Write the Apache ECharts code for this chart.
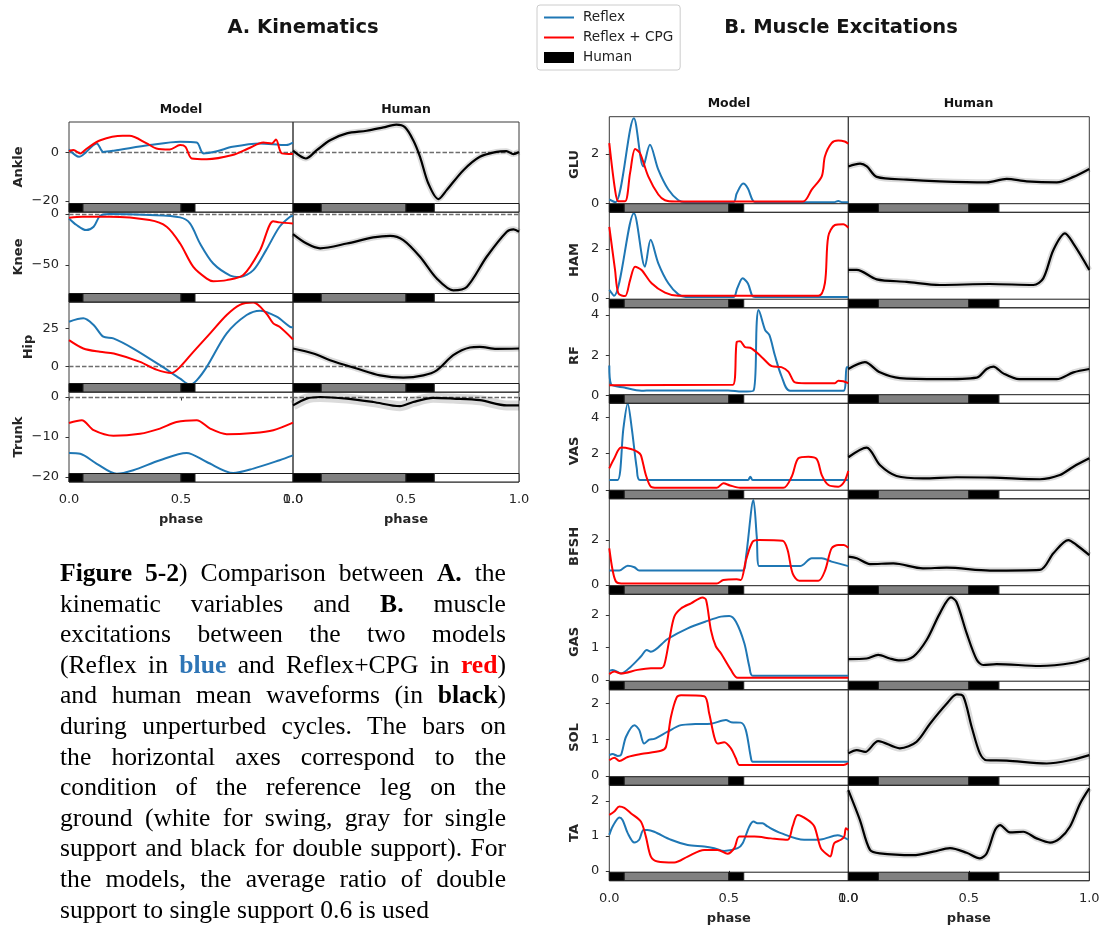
<!DOCTYPE html>
<html><head><meta charset="utf-8">
<script src="https://cdn.jsdelivr.net/npm/echarts@6/dist/echarts.min.js"></script>
<style>
html,body{margin:0;padding:0;background:#fff;}
#chart{position:absolute;left:0;top:0;width:1106px;height:926px;}
#caption{position:absolute;left:60px;top:558px;width:446px;font-family:'Liberation Serif','Times New Roman',serif;font-size:25.6px;line-height:30.6px;color:#000;}
#caption .j{text-align:justify;text-align-last:justify;}
#caption .l{text-align:left;}
</style></head><body>
<div id="chart"></div>
<div id="caption">
<div class="j"><b>Figure 5-2</b>) Comparison between <b>A.</b> the</div>
<div class="j">kinematic variables and <b>B.</b> muscle</div>
<div class="j">excitations between the two models</div>
<div class="j">(Reflex in <b style="color:#2e75b6">blue</b> and Reflex+CPG in <b style="color:#ff0000">red</b>)</div>
<div class="j">and human mean waveforms (in <b>black</b>)</div>
<div class="j">during unperturbed cycles. The bars on</div>
<div class="j">the horizontal axes correspond to the</div>
<div class="j">condition of the reference leg on the</div>
<div class="j">ground (white for swing, gray for single</div>
<div class="j">support and black for double support). For</div>
<div class="j">the models, the average ratio of double</div>
<div class="l">support to single support 0.6 is used</div>
</div>
<script>
// ---------- DATA: [phase, value] ----------
const ankleReflex = [[0,1.2],[0.045,-1.8],[0.124,3.7],[0.153,0.2],[0.20,0.7],[0.36,3.0],[0.496,4.4],[0.57,4.1],[0.60,-0.4],[0.66,0.5],[0.73,2.3],[0.85,3.7],[0.97,3.0],[1.0,4.0]];
const ankleCPG = [[0,0.5],[0.02,1.0],[0.05,-0.4],[0.08,1.6],[0.14,5.0],[0.24,6.8],[0.27,6.8],[0.347,3.7],[0.39,1.6],[0.45,1.2],[0.496,3.0],[0.52,2.3],[0.548,-2.5],[0.615,-2.8],[0.73,-1.1],[0.80,1.6],[0.868,4.1],[0.905,3.7],[0.924,5.3],[0.95,-0.4],[1.0,-0.7]];
const ankleHuman = [[0,0.7],[0.057,-2.5],[0.105,0.9],[0.164,5.0],[0.238,7.8],[0.326,8.9],[0.40,10.3],[0.457,11.4],[0.496,10.3],[0.532,5.0],[0.562,-1.8],[0.599,-12.8],[0.643,-19.2],[0.68,-15.5],[0.754,-7.3],[0.827,-1.8],[0.90,0.2],[0.944,0.5],[0.975,-0.7],[1.0,0.2]];

const kneeReflex = [[0,-4.3],[0.034,-10.8],[0.076,-15.8],[0.11,-12.5],[0.138,-2],[0.18,0],[0.36,-1],[0.496,-3.3],[0.54,-9.2],[0.585,-29],[0.644,-48.7],[0.72,-60.5],[0.763,-61.8],[0.823,-55.2],[0.88,-35.5],[0.94,-12.5],[0.987,-2.6],[1.0,-2]];
const kneeCPG = [[0,-3.6],[0.06,-2.6],[0.18,-2.6],[0.36,-5.9],[0.436,-12.5],[0.496,-29],[0.555,-52],[0.615,-63.5],[0.644,-66],[0.704,-65],[0.778,-60],[0.853,-35.5],[0.912,-7],[0.94,-8.2],[1.0,-9.2]];
const kneeHuman = [[0,-19.7],[0.06,-29],[0.12,-33.7],[0.238,-29],[0.355,-23],[0.43,-21.4],[0.488,-25.6],[0.562,-42],[0.636,-63.4],[0.709,-75],[0.769,-71.7],[0.857,-42],[0.946,-17.4],[0.976,-15],[1.0,-17.4]];

const hipReflex = [[0,29.4],[0.064,31.6],[0.11,27.2],[0.153,19.5],[0.198,18.4],[0.287,11.7],[0.406,0.7],[0.496,-8.2],[0.54,-12.2],[0.57,-9.3],[0.615,-0.4],[0.704,21.7],[0.793,33.8],[0.853,36.7],[0.927,32.7],[0.987,26],[1.0,25.7]];
const hipCPG = [[0,17.2],[0.064,11.7],[0.138,9.5],[0.2,8.4],[0.317,2.9],[0.39,-2.2],[0.458,-4.4],[0.496,-0.4],[0.555,9.5],[0.63,21.7],[0.704,33.8],[0.763,40.5],[0.823,42],[0.88,35],[0.912,28.3],[0.94,26],[1.0,17.7]];
const hipHuman = [[0,11.7],[0.09,8.4],[0.164,4],[0.282,-1.5],[0.385,-6],[0.488,-7.5],[0.577,-6],[0.636,-2.7],[0.709,7.3],[0.783,12.4],[0.827,12.8],[0.9,11.5],[1.0,11.7]];

const trunkReflex = [[0,-14],[0.05,-14.2],[0.124,-16.7],[0.213,-19.2],[0.287,-18.3],[0.406,-15.8],[0.525,-14],[0.615,-16.25],[0.733,-19],[0.823,-17.9],[0.94,-15.8],[1.0,-14.6]];
const trunkCPG = [[0,-6.5],[0.057,-5.8],[0.11,-8.3],[0.198,-9.7],[0.317,-9.2],[0.406,-7.9],[0.48,-6.25],[0.57,-5.8],[0.63,-7.9],[0.704,-9.3],[0.823,-9],[0.912,-8.3],[1.0,-6.4]];
const trunkHuman = [[0,-2.1],[0.06,-0.4],[0.12,0],[0.238,-0.4],[0.355,-1.25],[0.473,-2.3],[0.532,-1.25],[0.62,-0.2],[0.709,-0.4],[0.827,-0.8],[0.946,-2.1],[1.0,-2.1]];

const gluReflex = [[0,0.16],[0.026,0.05],[0.103,3.43],[0.142,1.49],[0.17,2.36],[0.205,1.36],[0.247,0.56],[0.289,0.13],[0.32,0.05],[0.519,0.05],[0.533,0.4],[0.56,0.8],[0.58,0.6],[0.598,0.16],[0.61,0.05],[0.94,0.05],[0.958,0.1],[0.975,0.05],[1.0,0.05]];
const gluCPG = [[0,2.43],[0.024,0.56],[0.038,0.09],[0.066,0.09],[0.087,1.23],[0.108,2.19],[0.128,2.03],[0.163,1.09],[0.205,0.36],[0.233,0.13],[0.275,0.08],[0.81,0.08],[0.847,0.56],[0.889,1.09],[0.902,1.89],[0.93,2.43],[0.958,2.53],[0.985,2.49],[1.0,2.4]];
const gluHuman = [[0,1.49],[0.049,1.6],[0.077,1.49],[0.118,1.07],[0.242,0.96],[0.38,0.89],[0.574,0.85],[0.657,0.99],[0.74,0.89],[0.865,0.85],[0.934,1.07],[1.0,1.39]];

const hamReflex = [[0,0.34],[0.02,0.1],[0.103,3.45],[0.149,1.28],[0.173,2.37],[0.205,1.42],[0.247,0.61],[0.289,0.16],[0.32,0.05],[0.519,0.05],[0.535,0.4],[0.558,0.81],[0.58,0.6],[0.598,0.1],[0.61,0.05],[1.0,0.05]];
const hamCPG = [[0,2.9],[0.024,1.15],[0.038,0.2],[0.066,0.09],[0.087,0.74],[0.108,1.28],[0.135,1.15],[0.177,0.61],[0.233,0.23],[0.289,0.1],[0.875,0.1],[0.902,0.61],[0.916,2.5],[0.944,2.97],[0.979,3.0],[1.0,2.86]];
const hamHuman = [[0,1.15],[0.035,1.15],[0.118,0.77],[0.242,0.67],[0.38,0.54],[0.587,0.58],[0.768,0.54],[0.809,0.81],[0.851,1.96],[0.899,2.63],[0.934,2.22],[1.0,1.15]];

const rfReflex = [[0,1.48],[0.007,0.55],[0.063,0.38],[0.135,0.22],[0.177,0.24],[0.498,0.24],[0.554,0.18],[0.603,0.22],[0.617,3.67],[0.624,4.25],[0.652,3.25],[0.67,3.0],[0.693,1.98],[0.72,0.97],[0.756,0.22],[0.98,0.22],[0.993,1.39],[1.0,1.39]];
const rfCPG = [[0,0.5],[0.517,0.52],[0.533,2.66],[0.547,2.7],[0.568,2.4],[0.59,2.37],[0.638,1.9],[0.68,1.45],[0.72,1.4],[0.749,1.18],[0.777,0.64],[0.819,0.6],[0.944,0.6],[0.958,0.72],[0.979,0.7],[1.0,0.6]];
const rfHuman = [[0,1.31],[0.069,1.65],[0.131,1.14],[0.214,0.85],[0.38,0.8],[0.533,0.88],[0.574,1.31],[0.602,1.43],[0.643,1.09],[0.709,0.8],[0.865,0.8],[0.934,1.14],[1.0,1.31]];

const vasReflex = [[0,0.55],[0.035,0.55],[0.059,3.39],[0.077,4.76],[0.094,3.39],[0.115,1.19],[0.128,0.55],[0.58,0.55],[0.59,0.73],[0.60,0.55],[1.0,0.55]];
const vasCPG = [[0,1.19],[0.021,1.74],[0.049,2.33],[0.09,2.25],[0.118,2.1],[0.132,1.92],[0.153,0.82],[0.174,0.18],[0.2,0.12],[0.45,0.12],[0.477,0.37],[0.505,0.25],[0.547,0.12],[0.728,0.12],[0.763,0.73],[0.791,1.74],[0.833,1.83],[0.868,1.7],[0.889,0.82],[0.917,0.27],[0.958,0.18],[0.983,0.45],[1.0,1.04]];
const vasHuman = [[0,1.8],[0.076,2.33],[0.131,1.37],[0.2,0.77],[0.31,0.64],[0.449,0.7],[0.6,0.68],[0.795,0.59],[0.878,0.82],[0.934,1.28],[1.0,1.74]];

const bfshReflex = [[0,0.64],[0.042,0.64],[0.077,0.86],[0.105,0.79],[0.125,0.64],[0.558,0.64],[0.572,1.26],[0.603,3.78],[0.617,2.15],[0.627,0.84],[0.798,0.84],[0.847,1.19],[0.889,1.19],[0.93,1.04],[1.0,0.84]];
const bfshCPG = [[0,1.63],[0.014,0.65],[0.028,0.15],[0.05,0.07],[0.45,0.07],[0.477,0.22],[0.533,0.25],[0.55,0.22],[0.572,1.11],[0.6,1.93],[0.628,2.0],[0.725,1.97],[0.746,1.56],[0.767,0.52],[0.795,0.19],[0.875,0.19],[0.903,0.65],[0.93,1.63],[0.958,1.78],[0.98,1.78],[1.0,1.66]];
const bfshHuman = [[0,1.26],[0.035,1.19],[0.09,0.93],[0.187,0.96],[0.31,0.74],[0.408,0.77],[0.587,0.64],[0.795,0.67],[0.851,1.41],[0.913,2.0],[0.947,1.78],[1.0,1.33]];

const gasReflex = [[0,0.28],[0.014,0.31],[0.049,0.2],[0.09,0.41],[0.132,0.72],[0.157,0.92],[0.174,0.87],[0.244,1.26],[0.328,1.59],[0.411,1.82],[0.467,1.95],[0.502,1.97],[0.53,1.79],[0.565,1.13],[0.586,0.41],[0.6,0.13],[1.0,0.13]];
const gasCPG = [[0,0.18],[0.021,0.26],[0.049,0.2],[0.118,0.31],[0.174,0.36],[0.216,0.36],[0.23,0.46],[0.251,1.23],[0.272,1.95],[0.3,2.2],[0.342,2.36],[0.39,2.54],[0.405,2.46],[0.425,1.54],[0.446,1.03],[0.467,0.82],[0.509,0.31],[0.537,0.07],[1.0,0.07]];
const gasHuman = [[0,0.64],[0.076,0.66],[0.124,0.77],[0.173,0.66],[0.214,0.6],[0.27,0.72],[0.325,1.23],[0.38,2.05],[0.426,2.54],[0.449,2.4],[0.491,1.44],[0.533,0.62],[0.56,0.46],[0.615,0.49],[0.795,0.43],[0.934,0.53],[1.0,0.67]];

const solReflex = [[0,0.57],[0.014,0.6],[0.035,0.55],[0.049,0.58],[0.07,1.08],[0.105,1.4],[0.125,1.27],[0.146,0.89],[0.167,1.0],[0.188,1.02],[0.244,1.22],[0.3,1.4],[0.36,1.43],[0.425,1.44],[0.488,1.54],[0.51,1.48],[0.55,1.47],[0.571,1.27],[0.592,0.52],[0.6,0.39],[1.0,0.39]];
const solCPG = [[0,0.43],[0.021,0.5],[0.042,0.41],[0.077,0.52],[0.132,0.6],[0.216,0.69],[0.237,0.8],[0.258,1.63],[0.282,2.17],[0.3,2.23],[0.397,2.2],[0.418,1.72],[0.439,1.08],[0.453,0.89],[0.481,0.93],[0.509,0.76],[0.53,0.48],[0.544,0.3],[0.98,0.3],[1.0,0.35]];
const solHuman = [[0,0.62],[0.035,0.71],[0.07,0.66],[0.124,0.96],[0.214,0.76],[0.283,0.94],[0.339,1.44],[0.408,1.99],[0.45,2.25],[0.477,2.2],[0.512,1.35],[0.546,0.62],[0.574,0.43],[0.657,0.42],[0.823,0.34],[0.934,0.45],[1.0,0.57]];

const taReflex = [[0,1.03],[0.014,1.27],[0.042,1.53],[0.056,1.45],[0.077,1.08],[0.105,0.81],[0.125,0.89],[0.143,1.17],[0.16,1.17],[0.188,1.12],[0.258,0.89],[0.328,0.74],[0.397,0.7],[0.439,0.65],[0.481,0.57],[0.537,0.65],[0.558,0.79],[0.586,1.27],[0.604,1.41],[0.62,1.36],[0.641,1.36],[0.662,1.27],[0.718,1.08],[0.815,0.89],[0.885,0.9],[0.955,1.02],[1.0,0.89]];
const taCPG = [[0,1.6],[0.021,1.7],[0.042,1.84],[0.063,1.8],[0.09,1.65],[0.132,1.41],[0.153,0.98],[0.174,0.41],[0.202,0.27],[0.272,0.24],[0.328,0.41],[0.397,0.6],[0.453,0.6],[0.495,0.49],[0.523,0.65],[0.544,0.98],[0.607,0.98],[0.676,0.93],[0.746,0.89],[0.767,1.27],[0.788,1.6],[0.83,1.46],[0.858,1.27],[0.885,0.65],[0.913,0.46],[0.925,0.41],[0.941,0.79],[0.969,0.89],[0.983,0.98],[0.99,1.22],[1.0,1.17]];
const taHuman = [[0,2.31],[0.048,1.46],[0.09,0.6],[0.131,0.5],[0.27,0.45],[0.353,0.55],[0.422,0.65],[0.491,0.52],[0.546,0.36],[0.574,0.5],[0.609,1.17],[0.63,1.31],[0.671,1.1],[0.726,1.12],[0.781,0.93],[0.837,0.81],[0.878,0.93],[0.92,1.27],[0.962,1.93],[1.0,2.36]];

// gait phase bars: boundaries and ground-contact state of each segment
const modelPhaseEdges = [0, 0.0625, 0.5, 0.5625, 1];
const humanPhaseEdges = [0, 0.125, 0.5, 0.625, 1];
const phaseStates = ['double', 'single', 'double', 'swing'];

const kinRows = ['Ankle', 'Knee', 'Hip', 'Trunk'];
const kinTicks = [[-20, 0], [-50, 0], [0, 25], [-20, -10, 0]];
const kinRange = [[-24.5, 12.5], [-86.5, 2], [-17, 42.4], [-21.25, 1.25]];
const kinData = [
  [ankleReflex, ankleCPG, ankleHuman],
  [kneeReflex, kneeCPG, kneeHuman],
  [hipReflex, hipCPG, hipHuman],
  [trunkReflex, trunkCPG, trunkHuman]
];

const musRows = ['GLU', 'HAM', 'RF', 'VAS', 'BFSH', 'GAS', 'SOL', 'TA'];
const musTicks = [[0, 2], [0, 2], [0, 2, 4], [0, 2, 4], [0, 2], [0, 1, 2], [0, 1, 2], [0, 1, 2]];
const musRange = [[-0.35, 3.49], [-0.38, 3.49], [-0.4, 4.37], [-0.48, 4.77], [-0.41, 3.84], [-0.3, 2.64], [-0.26, 2.38], [-0.28, 2.45]];
const musData = [
  [gluReflex, gluCPG, gluHuman],
  [hamReflex, hamCPG, hamHuman],
  [rfReflex, rfCPG, rfHuman],
  [vasReflex, vasCPG, vasHuman],
  [bfshReflex, bfshCPG, bfshHuman],
  [gasReflex, gasCPG, gasHuman],
  [solReflex, solCPG, solHuman],
  [taReflex, taCPG, taHuman]
];

// ---------- LAYOUT / STYLE ----------
const FONT = 'DejaVu Sans';
const TXT = '#262626';
const COLORS = { reflex: '#1f77b4', cpg: '#ff0000', human: '#000000' };
const STATE_FILL = { double: '#000000', single: '#808080', swing: '#ffffff' };
const BAR_H = 8.5;

const panelA = {
  cols: [{ left: 69, width: 224 }, { left: 293, width: 226 }],
  top: 122, rowH: 90, nameGaps: [43.5, 43.5, 33.5, 43.5], zero: true,
  bandW: [4, 4, 4, 8], xLabelMargin: 11, xNameGap: 31
};
const panelB = {
  cols: [{ left: 609.3, width: 239 }, { left: 848.3, width: 241 }],
  top: 116.7, rowH: 95.5, nameGaps: [27.8, 27.8, 27.8, 27.8, 27.8, 27.8, 27.8, 27.8], zero: false,
  bandW: [4, 4, 4, 4, 4, 4, 5, 4], xLabelMargin: 11, xNameGap: 31
};

const grids = [], xAxes = [], yAxes = [], series = [];

function phaseBarData(edges) {
  const out = [];
  for (let i = 0; i < phaseStates.length; i++) out.push([edges[i], edges[i + 1], i]);
  return out;
}

function renderPhaseBar(params, api) {
  const s = api.value(0), e = api.value(1), k = api.value(2);
  const p0 = api.coord([s, 0]);
  const p1 = api.coord([e, 0]);
  const cs = params.coordSys;
  return {
    type: 'rect',
    shape: { x: p0[0], y: cs.y + cs.height - BAR_H, width: p1[0] - p0[0], height: BAR_H },
    style: { fill: STATE_FILL[phaseStates[k]], stroke: '#1a1a1a', lineWidth: 1 }
  };
}

const fmt = v => String(v).replace('-', '\u2212');

function addPanel(layout, rowNames, ticks, ranges, data) {
  rowNames.forEach((rowName, r) => {
    const isBottom = r === rowNames.length - 1;
    [0, 1].forEach(c => {
      const gi = grids.length;
      const col = layout.cols[c];
      grids.push({
        left: col.left, top: layout.top + r * layout.rowH, width: col.width, height: layout.rowH,
        show: true, borderColor: '#3a3a3a', borderWidth: 1, backgroundColor: 'transparent'
      });
      xAxes.push({
        type: 'value', gridIndex: gi, min: 0, max: 1, interval: 0.5,
        splitLine: { show: false }, axisLine: { show: false },
        axisTick: { show: isBottom, length: 3.5, lineStyle: { color: '#333' } },
        axisLabel: { show: isBottom, margin: layout.xLabelMargin, fontSize: 13, fontFamily: FONT, color: TXT, formatter: v => v.toFixed(1) },
        name: isBottom ? 'phase' : '', nameLocation: 'middle', nameGap: layout.xNameGap,
        nameTextStyle: { fontFamily: FONT, fontWeight: 'bold', fontSize: 13, color: TXT }
      });
      yAxes.push({
        type: 'value', gridIndex: gi, min: ranges[r][0], max: ranges[r][1],
        splitLine: { show: false }, axisLine: { show: false },
        axisTick: { show: c === 0, customValues: ticks[r], length: 3.5, lineStyle: { color: '#333' } },
        axisLabel: { show: c === 0, customValues: ticks[r], margin: 10, fontSize: 13, fontFamily: FONT, color: TXT, formatter: fmt },
        name: c === 0 ? rowName : '', nameLocation: 'middle', nameGap: layout.nameGaps[r],
        nameTextStyle: { fontFamily: FONT, fontWeight: 'bold', fontSize: 13, color: TXT }
      });
      const zeroLine = layout.zero ? {
        silent: true, symbol: 'none', z: 1, label: { show: false },
        lineStyle: { type: [4.5, 2], color: '#6e6e6e', width: 1.3 },
        data: [{ yAxis: 0 }]
      } : undefined;
      if (c === 0) {
        series.push({
          type: 'line', name: 'Reflex', xAxisIndex: gi, yAxisIndex: gi, data: data[r][0],
          symbol: 'none', smooth: 0.3, z: 3, lineStyle: { width: 2, color: COLORS.reflex },
          itemStyle: { color: COLORS.reflex }, markLine: zeroLine
        });
        series.push({
          type: 'line', name: 'Reflex + CPG', xAxisIndex: gi, yAxisIndex: gi, data: data[r][1],
          symbol: 'none', smooth: 0.3, z: 4, lineStyle: { width: 2, color: COLORS.cpg },
          itemStyle: { color: COLORS.cpg }
        });
      } else {
        // variability band (drawn as a soft wide stroke under the mean waveform)
        series.push({
          type: 'line', name: 'Human band', xAxisIndex: gi, yAxisIndex: gi, data: data[r][2],
          symbol: 'none', smooth: 0.3, z: 2, silent: true,
          lineStyle: { width: 2 + layout.bandW[r], color: 'rgba(0,0,0,0.14)' },
          markLine: zeroLine
        });
        series.push({
          type: 'line', name: 'Human', xAxisIndex: gi, yAxisIndex: gi, data: data[r][2],
          symbol: 'none', smooth: 0.3, z: 3,
          lineStyle: { width: 2.2, color: COLORS.human },
          itemStyle: { color: COLORS.human }
        });
      }
      series.push({
        type: 'custom', name: 'phaseBar', xAxisIndex: gi, yAxisIndex: gi, z: 6,
        data: phaseBarData(c === 0 ? modelPhaseEdges : humanPhaseEdges),
        encode: { x: [0, 1] }, renderItem: renderPhaseBar, silent: true
      });
    });
  });
}

addPanel(panelA, kinRows, kinTicks, kinRange, kinData);
addPanel(panelB, musRows, musTicks, musRange, musData);

const titleStyle = (size) => ({ fontFamily: FONT, fontWeight: 'bold', fontSize: size, color: '#141414' });
const hideSym = { opacity: 0, color: 'transparent', borderWidth: 0 };
const option = {
  animation: false,
  backgroundColor: '#fff',
  title: [
    { text: 'A. Kinematics', left: 303, top: 18, textAlign: 'center', padding: 0, textStyle: titleStyle(19.5) },
    { text: 'B. Muscle Excitations', left: 841, top: 18, textAlign: 'center', padding: 0, textStyle: titleStyle(19.5) },
    { text: 'Model', left: 181, top: 103, textAlign: 'center', padding: 0, textStyle: titleStyle(12.5) },
    { text: 'Human', left: 406, top: 103, textAlign: 'center', padding: 0, textStyle: titleStyle(12.5) },
    { text: 'Model', left: 729, top: 97, textAlign: 'center', padding: 0, textStyle: titleStyle(12.5) },
    { text: 'Human', left: 968.5, top: 97, textAlign: 'center', padding: 0, textStyle: titleStyle(12.5) }
  ],
  legend: {
    data: [
      { name: 'Reflex', itemStyle: hideSym },
      { name: 'Reflex + CPG', itemStyle: hideSym },
      { name: 'Human', icon: 'rect', itemStyle: { color: '#000' } }
    ],
    orient: 'vertical', left: 537, top: 5, itemWidth: 30, itemHeight: 11, itemGap: 6,
    padding: [5.5, 7, 5.5, 6], borderColor: '#cccccc', borderWidth: 1, borderRadius: 3,
    selectedMode: false,
    textStyle: { fontFamily: FONT, fontSize: 13.6, color: '#222', padding: [0, 0, 0, 4] }
  },
  grid: grids,
  xAxis: xAxes,
  yAxis: yAxes,
  series: series
};

const chart = echarts.init(document.getElementById('chart'), null, { renderer: 'canvas' });
chart.setOption(option);
</script>
</body></html>
